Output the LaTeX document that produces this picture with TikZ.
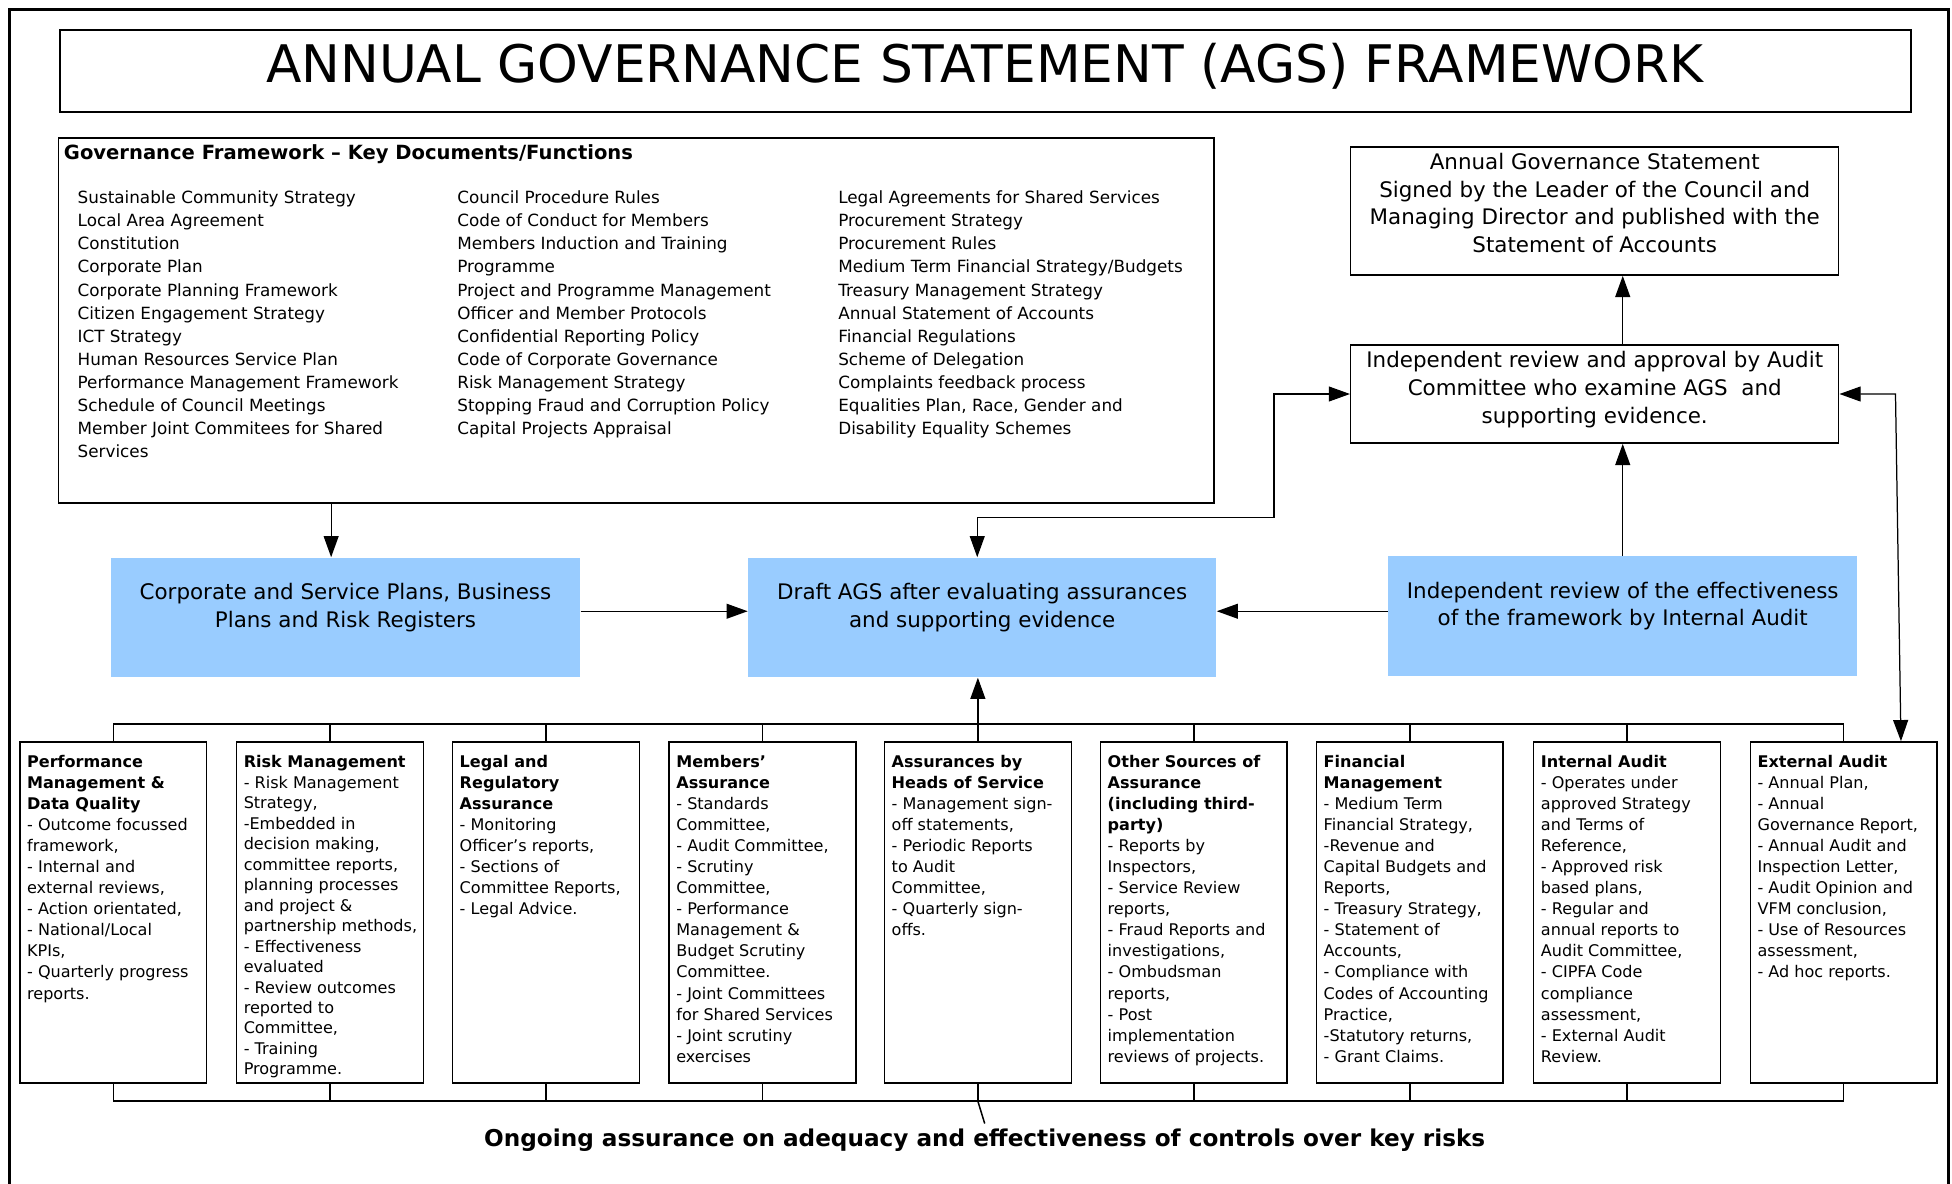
\documentclass[tikz,border=0pt]{standalone}
\usepackage{fontspec}
\setmainfont{DejaVu Sans}
\usepackage{tikz}
\usetikzlibrary{positioning,calc,arrows.meta}
\definecolor{planblue}{HTML}{99CCFF}

\newcommand{\titlefont}{\fontsize{20.8}{25}\selectfont}
\newcommand{\listfont}{\fontsize{6.75}{9.27}\selectfont}
\newcommand{\boxfont}{\fontsize{6.45}{8.45}\selectfont}
\newcommand{\tightfont}{\fontsize{6.45}{8.23}\selectfont}
\newcommand{\midfont}{\fontsize{8.6}{11.1}\selectfont}

\begin{document}
\begin{tikzpicture}[x=0.5pt,y=-0.5pt,
  box/.style={draw, line width=0.6pt, inner sep=0pt},
  bluebox/.style={fill=planblue, inner sep=0pt, minimum width=188.5pt, minimum height=48pt},
  srcbox/.style={box, minimum width=75pt, minimum height=137pt},
  srctext/.style={anchor=north west, inner sep=0pt, align=left, font=\boxfont},
  arr/.style={-{Triangle[length=8.5pt,width=6pt]}, line width=0.5pt},
  dbl/.style={{Triangle[length=8.5pt,width=6pt]}-{Triangle[length=8.5pt,width=6pt]}, line width=0.5pt},
  bus/.style={line width=0.6pt}]
\useasboundingbox (0,0) rectangle (1568,951);

% frame and title
\draw[line width=1.2pt] (8,960) -- (8,8) -- (1565,8) -- (1565,960);
\node[box, line width=0.8pt, minimum width=743.5pt, minimum height=33pt] (title) at (791.5,57) {};
\node[inner sep=0pt, font=\titlefont] (titletext) at (791,53) {ANNUAL GOVERNANCE STATEMENT (AGS) FRAMEWORK};

% key documents
\node[box, minimum width=464pt, minimum height=146.5pt] (gov) at (511,257.5) {};
\node[anchor=west, inner sep=0pt, font=\fontsize{7.85}{9}\selectfont\bfseries] (govhead) at (51,124) {Governance Framework -- Key Documents/Functions};
\node[anchor=north west, inner sep=0pt, align=left, font=\listfont] (colA) at (62,153) {Sustainable Community Strategy\\ Local Area Agreement\\ Constitution\\ Corporate Plan\\ Corporate Planning Framework\\ Citizen Engagement Strategy\\ ICT Strategy\\ Human Resources Service Plan\\ Performance Management Framework\\ Schedule of Council Meetings\\ Member Joint Commitees for Shared\\ Services};
\node[anchor=north west, inner sep=0pt, align=left, font=\listfont] (colB) at (367,153) {Council Procedure Rules\\ Code of Conduct for Members\\ Members Induction and Training\\ Programme\\ Project and Programme Management\\ Officer and Member Protocols\\ Confidential Reporting Policy\\ Code of Corporate Governance\\ Risk Management Strategy\\ Stopping Fraud and Corruption Policy\\ Capital Projects Appraisal};
\node[anchor=north west, inner sep=0pt, align=left, font=\listfont] (colC) at (673,153) {Legal Agreements for Shared Services\\ Procurement Strategy\\ Procurement Rules\\ Medium Term Financial Strategy/Budgets\\ Treasury Management Strategy\\ Annual Statement of Accounts\\ Financial Regulations\\ Scheme of Delegation\\ Complaints feedback process\\ Equalities Plan, Race, Gender and\\ Disability Equality Schemes};

% statement and audit committee
\node[box, minimum width=196pt, minimum height=51.5pt] (ags) at (1281,169.5) {};
\node[align=center, inner sep=0pt, font=\midfont] (agstext) at (1281,163) {Annual Governance Statement\\ Signed by the Leader of the Council and\\ Managing Director and published with the\\ Statement of Accounts};
\node[box, minimum width=196pt, minimum height=39.5pt] (audit) at (1281,316.5) {};
\node[align=center, inner sep=0pt, font=\midfont] (audittext) at (1281,313) {Independent review and approval by Audit\\ Committee who examine AGS \ and\\ supporting evidence.};

% blue boxes
\node[bluebox] (corp) at (277.5,496) {};
\node[align=center, inner sep=0pt, font=\midfont] (corptext) at (277.5,488) {Corporate and Service Plans, Business\\ Plans and Risk Registers};
\node[bluebox, minimum width=188pt] (draft) at (789,496) {};
\node[align=center, inner sep=0pt, font=\midfont] (drafttext) at (789,488) {Draft AGS after evaluating assurances\\ and supporting evidence};
\node[bluebox] (indep) at (1303.5,495) {};
\node[align=center, inner sep=0pt, font=\midfont] (indeptext) at (1303.5,487) {Independent review of the effectiveness\\ of the framework by Internal Audit};

% sources of assurance
\node[srcbox] (pm) at (91,733) {};
\node[srcbox] (rm) at (265,733) {};
\node[srcbox] (legal) at (438.5,733) {};
\node[srcbox] (members) at (612.5,733) {};
\node[srcbox] (heads) at (785.5,733) {};
\node[srcbox] (other) at (959,733) {};
\node[srcbox] (fin) at (1132.5,733) {};
\node[srcbox] (ia) at (1307,733) {};
\node[srcbox] (ea) at (1481,733) {};

\node[srctext] (pmtext) at ([shift={(6,11)}]pm.north west) {\textbf{Performance}\\ \textbf{Management \&}\\ \textbf{Data Quality}\\ - Outcome focussed\\ framework,\\ - Internal and\\ external reviews,\\ - Action orientated,\\ - National/Local\\ KPIs,\\ - Quarterly progress\\ reports.};
\node[srctext, font=\tightfont] (rmtext) at ([shift={(6,11)}]rm.north west) {\textbf{Risk Management}\\ - Risk Management\\ Strategy,\\ -Embedded in\\ decision making,\\ committee reports,\\ planning processes\\ and project \&\\ partnership methods,\\ - Effectiveness\\ evaluated\\ - Review outcomes\\ reported to\\ Committee,\\ - Training\\ Programme.};
\node[srctext] (legaltext) at ([shift={(6,11)}]legal.north west) {\textbf{Legal and}\\ \textbf{Regulatory}\\ \textbf{Assurance}\\ - Monitoring\\ Officer’s reports,\\ - Sections of\\ Committee Reports,\\ - Legal Advice.};
\node[srctext] (memberstext) at ([shift={(6,11)}]members.north west) {\textbf{Members’}\\ \textbf{Assurance}\\ - Standards\\ Committee,\\ - Audit Committee,\\ - Scrutiny\\ Committee,\\ - Performance\\ Management \&\\ Budget Scrutiny\\ Committee.\\ - Joint Committees\\ for Shared Services\\ - Joint scrutiny\\ exercises};
\node[srctext] (headstext) at ([shift={(6,11)}]heads.north west) {\textbf{Assurances by}\\ \textbf{Heads of Service}\\ - Management sign-\\ off statements,\\ - Periodic Reports\\ to Audit\\ Committee,\\ - Quarterly sign-\\ offs.};
\node[srctext] (othertext) at ([shift={(6,11)}]other.north west) {\textbf{Other Sources of}\\ \textbf{Assurance}\\ \textbf{(including third-}\\ \textbf{party)}\\ - Reports by\\ Inspectors,\\ - Service Review\\ reports,\\ - Fraud Reports and\\ investigations,\\ - Ombudsman\\ reports,\\ - Post\\ implementation\\ reviews of projects.};
\node[srctext] (fintext) at ([shift={(6,11)}]fin.north west) {\textbf{Financial}\\ \textbf{Management}\\ - Medium Term\\ Financial Strategy,\\ -Revenue and\\ Capital Budgets and\\ Reports,\\ - Treasury Strategy,\\ - Statement of\\ Accounts,\\ - Compliance with\\ Codes of Accounting\\ Practice,\\ -Statutory returns,\\ - Grant Claims.};
\node[srctext] (iatext) at ([shift={(6,11)}]ia.north west) {\textbf{Internal Audit}\\ - Operates under\\ approved Strategy\\ and Terms of\\ Reference,\\ - Approved risk\\ based plans,\\ - Regular and\\ annual reports to\\ Audit Committee,\\ - CIPFA Code\\ compliance\\ assessment,\\ - External Audit\\ Review.};
\node[srctext] (eatext) at ([shift={(6,11)}]ea.north west) {\textbf{External Audit}\\ - Annual Plan,\\ - Annual\\ Governance Report,\\ - Annual Audit and\\ Inspection Letter,\\ - Audit Opinion and\\ VFM conclusion,\\ - Use of Resources\\ assessment,\\ - Ad hoc reports.};

\node[inner sep=0pt, font=\fontsize{9.3}{11}\selectfont\bfseries] (caption) at (791,916) {Ongoing assurance on adequacy and effectiveness of controls over key risks};

% buses
\foreach \b in {pm,rm,legal,members,heads,other,fin,ia,ea}
  \draw[bus] (\b.north) -- ++(0,-14) (\b.south) -- ++(0,14);
\draw[bus] ([yshift=7pt]pm.north) -- ([yshift=7pt]ea.north);
\draw[bus] ([yshift=-7pt]pm.south) -- ([yshift=-7pt]ea.south);
\draw[bus] ([yshift=-7pt]heads.south) -- ([yshift=2pt]caption.north);

% arrows
\draw[arr] ([yshift=7pt]heads.north) -- (heads.north |- draft.south);
\draw[arr] ([xshift=-122.5pt]gov.south) -- ([xshift=-5.75pt]corp.north);
\draw[arr] ([yshift=2.5pt]corp.east) -- ([yshift=2.5pt]draft.west);
\draw[arr] ([yshift=2pt]indep.west) -- ([yshift=2.5pt]draft.east);
\draw[arr] (indep.north) -- (indep.north |- audit.south);
\draw[arr] (audit.north -| indep.north) -- (ags.south -| indep.north);
\draw[dbl] ([xshift=-2pt]draft.north) -- ++(0,-32) -| ($(audit.west)+(-61,0)$) -- (audit.west);
\draw[dbl] (audit.east) -- ++(45,0) -- ([xshift=23pt]ea.north);
\end{tikzpicture}
\end{document}
